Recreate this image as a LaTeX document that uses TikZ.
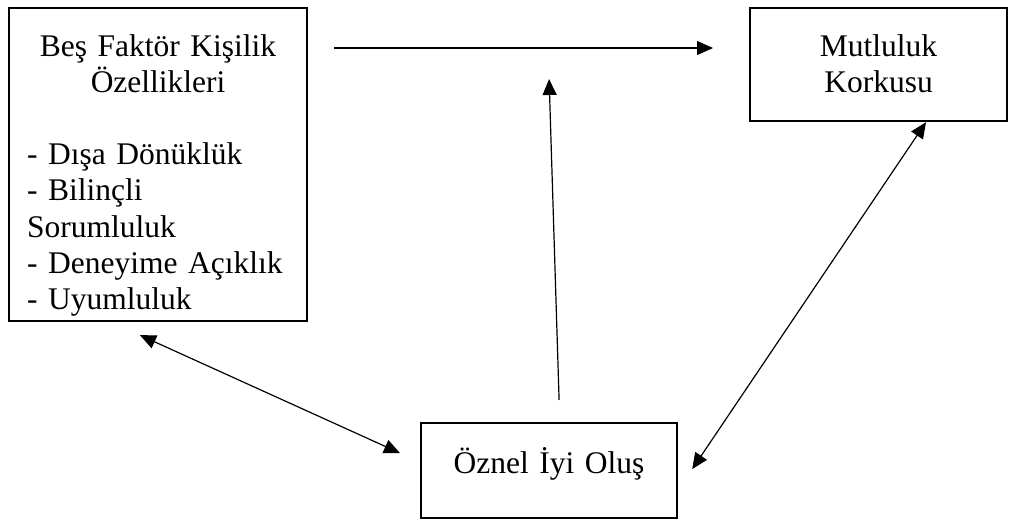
\documentclass[tikz,border=0pt]{standalone}
\usepackage{fontspec}
\setmainfont{Liberation Serif}
\usetikzlibrary{arrows.meta,calc}

\begin{document}
\begin{tikzpicture}[x=1pt,y=-1pt,
        kutu/.style={draw,line width=2.2pt,inner sep=0pt,anchor=north west,
          font=\fontsize{31.5pt}{36.2pt}\selectfont},
        ok/.style={line width=1.2pt,-{Triangle[length=16pt,width=14pt]}},
        ciftok/.style={line width=1.2pt,{Triangle[length=16pt,width=14pt]}-{Triangle[length=16pt,width=14pt]}}]
        \useasboundingbox (0,0) rectangle (1010,520);

        \node[kutu,text width=262pt,inner xsep=18pt,text height=48pt,text depth=265pt] (bes) at (8,7)
          {{\centering Beş Faktör Kişilik\\ Özellikleri\par}
           \vspace{36.2pt}
           {\raggedright - Dışa Dönüklük\\ - Bilinçli\\ Sorumluluk\\ - Deneyime Açıklık\\ - Uyumluluk\par}};
        \node[kutu,text width=257pt,align=center,text height=48pt,text depth=65pt] (mut) at (749,7)
          {Mutluluk\\ Korkusu};
        \node[kutu,text width=256pt,align=center,text height=50pt,text depth=45pt] (oz) at (420,422)
          {Öznel İyi Oluş};

        \draw[ok] ($(bes.north east)+(26,41)$) -- ($(mut.north west)+(-36,41)$);
        \draw[ok] ($(oz.north)+(10,-22)$) -- ($(oz.north |- bes.north)+(0,72)$);
        \draw[ciftok] ($(bes.south west)+(132,13)$) -- ($(oz.west)+(-20,-17.5)$);
        \draw[ciftok] ($(mut.south west)+(177,0)$) -- ($(oz.east)+(14,-1.5)$);
      \end{tikzpicture}
\end{document}
